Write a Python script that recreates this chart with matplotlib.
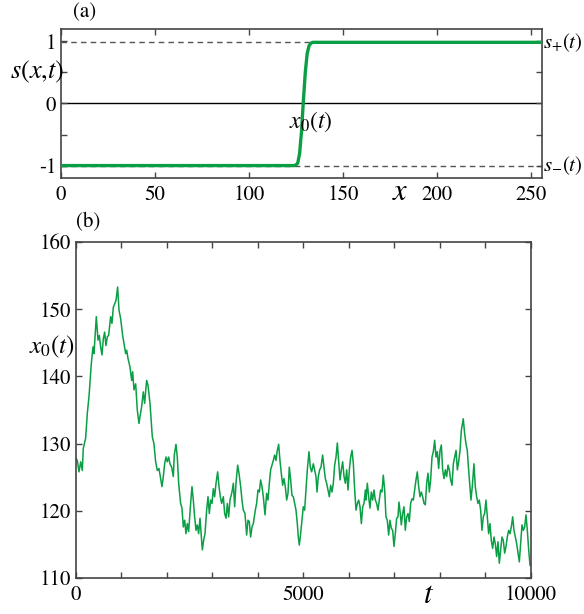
import numpy as np
import matplotlib
matplotlib.use("Agg")
import matplotlib.pyplot as plt
from matplotlib.ticker import MultipleLocator

plt.rcParams['font.family'] = 'STIXGeneral'
plt.rcParams['mathtext.fontset'] = 'stix'

# panel (a): kink profile s(x,t)
kink_x = [0, 120, 124, 125, 126, 127, 128, 129, 130, 131, 132, 133, 134, 140, 256]
kink_s = [-1.0, -1.0, -1.0, -0.99, -0.96, -0.8, -0.45, 0.05, 0.5, 0.8, 0.93, 0.97, 0.985, 0.985, 0.985]
s_plus = 0.985
s_minus = -1.0

# panel (b): kink position x0(t)
t_vals = [0, 29, 66, 103, 139, 161, 212, 249, 286, 337, 374, 396, 447, 484, 513, 542, 571, 601,
          630, 659, 689, 718, 762, 791, 821, 850, 879, 916, 945, 982, 1026, 1055, 1092, 1114,
          1143, 1187, 1224, 1246, 1275, 1312, 1348, 1385, 1407, 1443, 1480, 1509, 1553, 1583,
          1627, 1678, 1714, 1751, 1788, 1824, 1861, 1890, 1920, 1949, 1978, 2007, 2037, 2066,
          2103, 2139, 2161, 2198, 2227, 2257, 2300, 2330, 2359, 2389, 2418, 2447, 2476, 2520,
          2550, 2579, 2608, 2638, 2667, 2696, 2726, 2755, 2777, 2806, 2836, 2872, 2902, 2931,
          2960, 2990, 3019, 3048, 3078, 3114, 3144, 3173, 3202, 3239, 3268, 3298, 3327, 3356,
          3385, 3429, 3459, 3488, 3517, 3554, 3583, 3620, 3649, 3678, 3715, 3751, 3781, 3810,
          3839, 3869, 3898, 3942, 3971, 4001, 4030, 4059, 4089, 4118, 4155, 4191, 4221, 4250,
          4279, 4308, 4338, 4367, 4396, 4425, 4455, 4484, 4513, 4543, 4572, 4601, 4631, 4660,
          4689, 4719, 4748, 4777, 4806, 4836, 4865, 4887, 4909, 4938, 4968, 4997, 5026, 5056,
          5085, 5122, 5151, 5180, 5217, 5246, 5276, 5298, 5327, 5356, 5386, 5422, 5451, 5481,
          5510, 5540, 5569, 5598, 5628, 5657, 5686, 5716, 5745, 5774, 5804, 5833, 5862, 5892,
          5921, 5950, 5980, 6009, 6038, 6068, 6097, 6126, 6155, 6185, 6214, 6243, 6273, 6302,
          6331, 6361, 6374, 6404, 6433, 6462, 6492, 6521, 6550, 6580, 6609, 6638, 6667, 6697,
          6726, 6755, 6785, 6814, 6843, 6873, 6902, 6931, 6961, 6990, 7019, 7049, 7078, 7100,
          7129, 7151, 7180, 7210, 7239, 7268, 7298, 7327, 7356, 7386, 7415, 7444, 7474, 7503,
          7532, 7562, 7591, 7620, 7650, 7679, 7708, 7738, 7767, 7796, 7826, 7855, 7884, 7914,
          7943, 7972, 8002, 8031, 8060, 8090, 8119, 8148, 8178, 8207, 8236, 8266, 8295, 8324,
          8354, 8383, 8412, 8442, 8471, 8484, 8513, 8543, 8572, 8601, 8631, 8660, 8682, 8711,
          8748, 8777, 8807, 8836, 8865, 8895, 8924, 8953, 8983, 9012, 9041, 9071, 9100, 9129,
          9159, 9188, 9217, 9247, 9276, 9305, 9335, 9364, 9393, 9423, 9452, 9481, 9511, 9540,
          9569, 9599, 9628, 9657, 9687, 9716, 9745, 9775, 9804, 9833, 9863, 9892, 9921, 9951,
          9980, 10000]
x0_vals = [127.8, 127.5, 125.8, 127.3, 126.0, 129.3, 130.8, 134.5, 137.0, 141.9, 144.4, 143.4,
           148.9, 145.4, 146.1, 144.4, 143.2, 145.6, 146.6, 144.6, 145.9, 146.1, 148.9, 147.9,
           150.3, 150.8, 151.3, 153.3, 149.9, 148.6, 146.1, 144.9, 143.4, 143.9, 142.7, 141.4,
           139.4, 140.7, 138.0, 138.9, 135.0, 133.0, 134.0, 135.5, 137.7, 136.0, 139.4, 138.7,
           136.0, 131.0, 130.0, 127.3, 126.0, 126.3, 124.8, 123.6, 125.1, 127.0, 128.0, 127.3,
           128.0, 127.0, 126.5, 125.1, 128.3, 129.9, 128.0, 124.1, 121.1, 120.4, 117.6, 118.6,
           116.6, 118.1, 116.9, 121.1, 123.6, 121.6, 119.1, 117.1, 117.9, 116.6, 118.9, 116.1,
           114.2, 115.6, 116.6, 120.1, 122.1, 119.6, 121.6, 121.1, 123.3, 122.1, 124.1, 125.8,
           123.6, 122.1, 121.1, 122.1, 119.6, 118.9, 121.1, 119.1, 121.6, 122.8, 124.1, 120.6,
           124.1, 126.8, 125.6, 123.6, 121.6, 120.1, 119.6, 116.4, 118.6, 118.4, 116.1, 117.6,
           118.1, 120.1, 121.1, 123.1, 122.8, 124.6, 123.6, 122.1, 119.4, 122.6, 121.6, 124.1,
           126.1, 126.8, 127.5, 128.3, 127.5, 129.0, 129.9, 127.5, 125.6, 123.8, 124.8, 123.6,
           121.6, 122.6, 126.5, 124.6, 122.3, 122.1, 121.1, 120.1, 118.1, 116.1, 114.9, 116.6,
           118.6, 120.6, 120.1, 123.1, 126.1, 128.8, 126.5, 125.8, 127.0, 126.1, 125.1, 122.8,
           125.1, 126.1, 126.5, 128.3, 126.5, 124.8, 124.1, 123.1, 122.1, 123.8, 122.8, 124.1,
           126.8, 128.0, 130.1, 127.5, 124.6, 126.1, 127.3, 125.1, 124.1, 126.1, 123.1, 126.1,
           128.0, 129.0, 127.0, 123.1, 120.1, 121.1, 121.6, 120.6, 118.1, 120.6, 121.1, 123.1,
           121.6, 124.1, 122.1, 120.4, 122.8, 121.6, 123.1, 121.6, 121.1, 120.1, 121.6, 123.1,
           122.8, 125.3, 123.1, 119.1, 118.6, 116.4, 118.6, 117.4, 117.1, 114.7, 116.6, 118.9,
           119.1, 121.3, 119.6, 117.9, 119.6, 120.6, 117.1, 119.1, 119.6, 118.4, 121.1, 121.8,
           121.6, 123.1, 124.6, 125.8, 123.6, 122.1, 122.8, 122.1, 121.1, 120.9, 124.1, 125.6,
           122.8, 124.6, 128.0, 128.8, 130.5, 128.0, 128.8, 126.3, 129.0, 129.8, 126.1, 124.8,
           126.1, 125.1, 126.8, 126.1, 124.6, 123.8, 127.0, 128.0, 129.0, 126.1, 127.3, 129.0,
           132.0, 132.5, 133.7, 131.5, 130.0, 129.0, 126.1, 123.6, 121.6, 123.6, 127.0, 123.6,
           122.1, 121.1, 121.6, 120.1, 117.1, 119.1, 119.6, 121.6, 119.1, 116.6, 118.1, 115.6,
           114.4, 116.1, 115.1, 113.2, 115.4, 112.2, 114.2, 116.1, 115.6, 113.7, 114.7, 116.1,
           117.1, 116.6, 117.6, 119.1, 117.1, 116.1, 115.1, 113.7, 112.4, 115.1, 117.9, 117.1,
           117.6, 119.4, 117.1, 114.2, 111.9, 111.8]

green = '#0a9e45'

fig = plt.figure(figsize=(5.84, 6.14), dpi=100)
ax1 = fig.add_axes([0.1045, 0.7101, 0.8236, 0.2427])
ax2 = fig.add_axes([0.1301, 0.0586, 0.7790, 0.5472])

# ---- panel (a)
ax1.axhline(0, color='black', lw=1.0, zorder=1)
ax1.axhline(s_plus, color='#555555', lw=1.0, ls=(0, (4, 3)), zorder=1)
ax1.axhline(s_minus, color='#555555', lw=1.0, ls=(0, (4, 3)), zorder=1)
ax1.plot(kink_x, kink_s, color=green, lw=2.4, zorder=3)
ax1.set_xlim(0, 256)
ax1.set_ylim(-1.2, 1.2)
ax1.set_xticks([0, 50, 100, 150, 200, 250])
ax1.set_yticks([-1, 0, 1])
ax1.set_yticklabels(['-1', '0', '1'])
ax1.yaxis.set_minor_locator(MultipleLocator(0.5))
ax1.tick_params(which='both', direction='in', top=True, right=True, labelsize=15,
                length=4, width=1, colors='#444444', labelcolor='black')
ax1.tick_params(axis='x', pad=5)
ax1.text(-0.05, 0.711, r'$s(x{,}t)$', transform=ax1.transAxes, fontsize=19,
         ha='center', va='center')
ax1.text(0.705, -0.10, r'$x$', transform=ax1.transAxes, fontsize=22,
         ha='center', va='center')
ax1.text(133, -0.3, r'$x_0(t)$', fontsize=17, ha='center', va='center')
ax1.text(1.003, (s_plus + 1.2) / 2.4, r'$s_{+}(t)$', transform=ax1.transAxes,
         fontsize=15, ha='left', va='center')
ax1.text(1.003, (s_minus + 1.2) / 2.4, r'$s_{-}(t)$', transform=ax1.transAxes,
         fontsize=15, ha='left', va='center')
ax1.text(0.048, 1.11, '(a)', transform=ax1.transAxes, fontsize=15,
         ha='center', va='center')

# ---- panel (b)
ax2.plot(t_vals, x0_vals, color=green, lw=1.1)
ax2.set_xlim(0, 10000)
ax2.set_ylim(110, 160)
ax2.set_xticks([0, 5000, 10000])
ax2.xaxis.set_minor_locator(MultipleLocator(1000))
ax2.set_yticks([110, 120, 130, 140, 150, 160])
ax2.tick_params(which='both', direction='in', top=True, right=True, labelsize=15,
                length=4, width=1, colors='#444444', labelcolor='black')
ax2.tick_params(axis='x', pad=5)
ax2.text(-0.053, 0.6875, r'$x_0(t)$', transform=ax2.transAxes, fontsize=18,
         ha='center', va='center')
ax2.text(0.774, -0.055, r'$t$', transform=ax2.transAxes, fontsize=22,
         ha='center', va='center')
ax2.text(0.026, 1.06, '(b)', transform=ax2.transAxes, fontsize=15,
         ha='center', va='center')

for ax in (ax1, ax2):
    for sp in ax.spines.values():
        sp.set_color('#444444')
        sp.set_linewidth(1.2)

fig.savefig('out.png', dpi=100)
